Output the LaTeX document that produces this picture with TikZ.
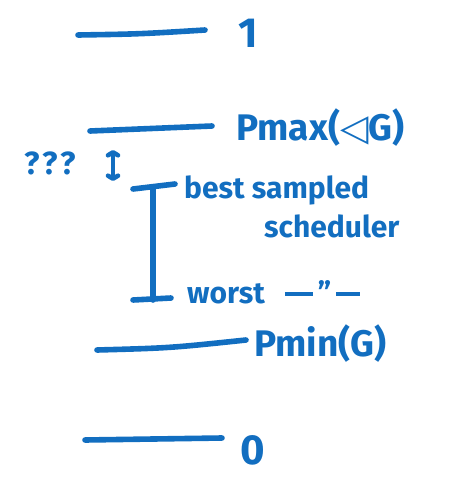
\documentclass[tikz,border=0pt]{standalone}
\usepackage{fontspec}
\setmainfont{Fira Sans}
\newfontfamily\symfont{DejaVu Sans}
\usetikzlibrary{arrows.meta}
\definecolor{ink}{RGB}{18,110,192}
\tikzset{
  pen/.style={draw=ink, line width=5.6pt, line cap=round, line join=round},
  arrowpen/.style={draw=ink, line width=4.6pt, line cap=round, line join=round},
  lbl/.style={text=ink, font=\bfseries\fontsize{37}{39}\selectfont, inner sep=0pt, anchor=west},
  note/.style={text=ink, font=\bfseries\fontsize{30}{32}\selectfont, inner sep=0pt, anchor=west, align=left},
}
\newcommand{\dashbar}[1]{\rule[7pt]{#1}{4.5pt}}
\begin{document}
\begin{tikzpicture}[x=1pt,y=-1pt]
\useasboundingbox (0,0) rectangle (449,483);

% level for probability 1
\coordinate (l1a) at (78,35);
\coordinate (l1b) at (205,30);
\draw[pen] (l1a) .. controls (140,34) .. (l1b);
\node[lbl, font=\bfseries\fontsize{42}{44}\selectfont] (one) at (238,33) {1};

% maximal probability level
\coordinate (mxa) at (90,131);
\coordinate (mxb) at (212,126);
\draw[pen] (mxa) -- (mxb);
\node[lbl] (pmax) at (236,128) {Pmax({\symfont\bfseries ◁}G)};

% question marks and small double arrow
\node[note, font=\bfseries\fontsize{32}{34}\selectfont] (qq) at (24,163) {?\hspace{3pt}?\hspace{3pt}?};
\coordinate (da) at (113,150);
\coordinate (db) at (113,181);
\draw[arrowpen, {Straight Barb[length=3pt,width=10pt,round]}-{Straight Barb[length=3pt,width=10pt,round]}] (da) -- (db);

% interval of scheduler values
\coordinate (it1) at (133,189);
\coordinate (it2) at (175,184);
\coordinate (im1) at (153,187);
\coordinate (im2) at (153,300);
\coordinate (ib1) at (133,300);
\coordinate (ib2) at (171,298);
\draw[pen] (it1) -- (it2);
\draw[pen] (im1) -- (im2);
\draw[pen] (ib1) -- (ib2);

\node[note] (best) at (184,190) {best sampled};
\node[note] (sched) at (264,226) {scheduler};
\node[note] (worst) at (187,292) {worst\hspace{20pt}\dashbar{28pt}\,''\,\dashbar{24pt}};

% minimal probability level
\coordinate (mna) at (97,350);
\coordinate (mnb) at (246,340);
\draw[pen] (mna) .. controls (170,348) .. (mnb);
\node[lbl] (pmin) at (254,344) {Pmin(G)};

% level for probability 0
\coordinate (l0a) at (85,440);
\coordinate (l0b) at (222,438);
\draw[pen] (l0a) -- (l0b);
\node[lbl, font=\bfseries\fontsize{42}{44}\selectfont] (zero) at (240,450) {0};
\end{tikzpicture}
\end{document}
